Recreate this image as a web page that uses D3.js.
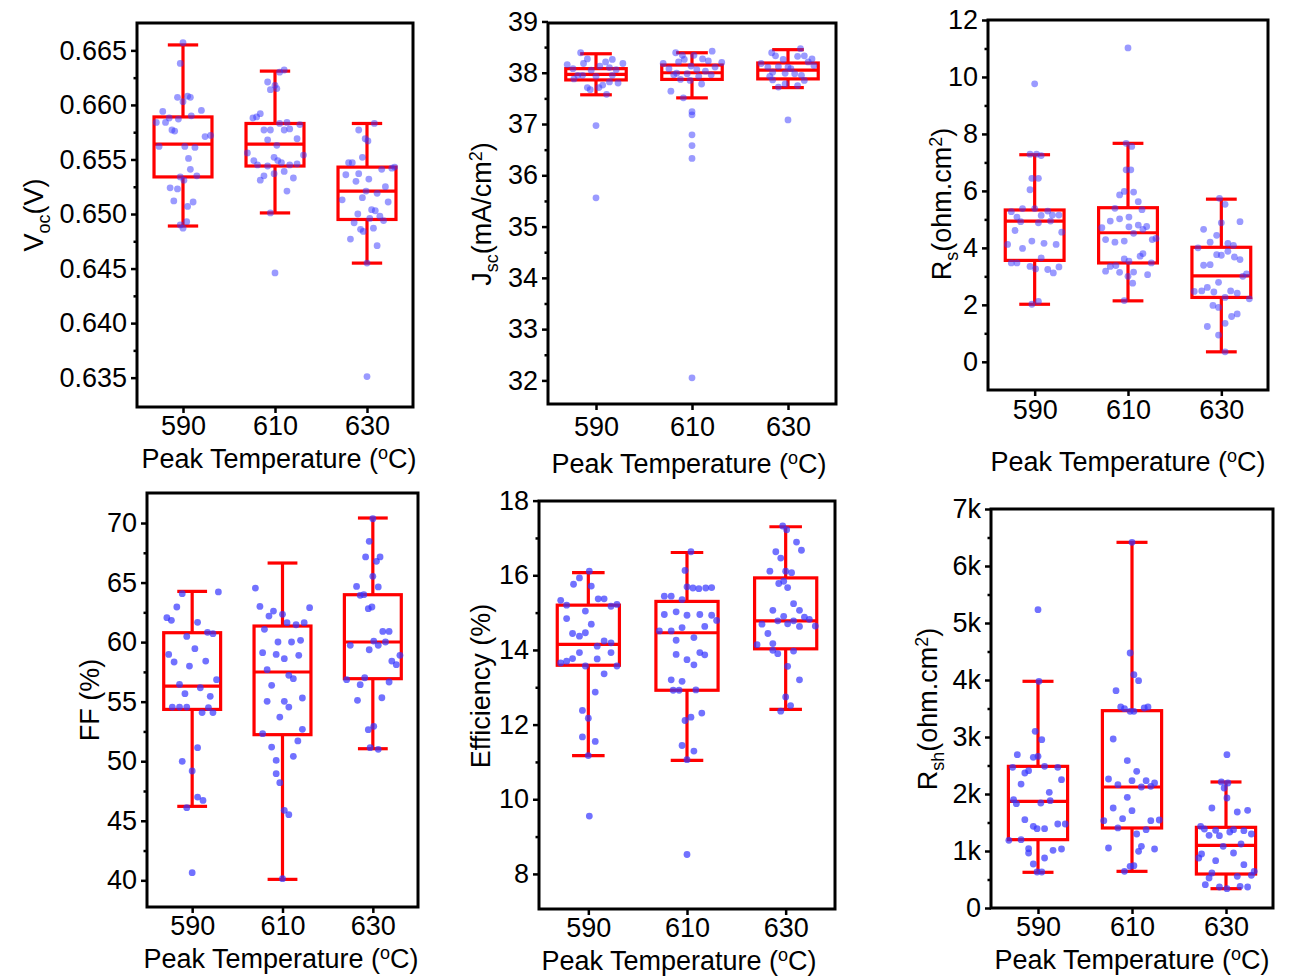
<!DOCTYPE html>
<html>
<head>
<meta charset="utf-8">
<script src="https://cdn.jsdelivr.net/npm/d3@7"></script>
<style>
  body { margin: 0; background: #fff; }
  text { font-family: "Liberation Sans", Arial, sans-serif; fill: #000; }
</style>
</head>
<body>
<svg id="fig" width="1294" height="976"></svg>
<script>
// categories
const temps = ["590", "610", "630"];

// box stats per temperature: [lower whisker, Q1, median, Q3, upper whisker]
const vocStats = [[0.6489, 0.6534, 0.6564, 0.6589, 0.6655], [0.6501, 0.6544, 0.6564, 0.6583, 0.6631], [0.6455, 0.6495, 0.6521, 0.6543, 0.6583]];
const jscStats = [[37.57, 37.86, 37.97, 38.08, 38.37], [37.51, 37.87, 38.0, 38.15, 38.39], [37.71, 37.88, 38.05, 38.19, 38.45]];
const rsStats = [[2.02, 3.56, 4.94, 5.33, 7.27], [2.14, 3.47, 4.53, 5.41, 7.67], [0.35, 2.26, 3.02, 4.02, 5.71]];
const ffStats = [[46.21, 54.35, 56.31, 60.79, 64.26], [40.08, 52.23, 57.49, 61.35, 66.64], [51.05, 56.93, 60.01, 63.98, 70.42]];
const effStats = [[11.17, 13.59, 14.15, 15.20, 16.07], [11.04, 12.92, 14.46, 15.30, 16.61], [12.41, 14.03, 14.78, 15.93, 17.30]];
const rshStats = [[626, 1199, 1871, 2485, 3977], [643, 1404, 2123, 3462, 6415], [339, 596, 1099, 1415, 2211]];

// measured cells: [jitter (fraction of category step), value]
const vocPts = [
  [[0,0.6657],[-0.03,0.6638],[-0.06,0.6607],[0,0.6603],[0.05,0.6608],[0.08,0.6607],[-0.22,0.6594],[0.2,0.6595],[-0.15,0.6588],[-0.05,0.6587],[0.09,0.659],[-0.29,0.6584],[-0.19,0.6584],[-0.12,0.6577],[-0.09,0.6576],[0.24,0.6571],[0.3,0.6572],[-0.26,0.6562],[0.02,0.6562],[0.13,0.6561],[0.06,0.6551],[0.08,0.6541],[0.15,0.6535],[-0.03,0.6534],[0.01,0.6531],[-0.14,0.6524],[-0.06,0.6523],[-0.1,0.6512],[0.11,0.6511],[0.05,0.6507],[0.04,0.6493],[-0.03,0.649],[0,0.6487]],
  [[0.1,0.6632],[0.05,0.663],[-0.08,0.6621],[0,0.6618],[-0.05,0.6614],[0.02,0.6615],[-0.16,0.6592],[-0.2,0.6589],[-0.24,0.6588],[0.13,0.6584],[0.05,0.6583],[0.27,0.6582],[-0.12,0.6577],[-0.05,0.6577],[0.1,0.6577],[0.16,0.6578],[0.24,0.6569],[-0.08,0.6568],[0.02,0.6563],[-0.3,0.6556],[0.31,0.6554],[-0.23,0.6549],[-0.01,0.6552],[0.03,0.6549],[0.07,0.6547],[-0.19,0.6545],[-0.08,0.6544],[0.16,0.6545],[0.24,0.6546],[0.1,0.6539],[-0.01,0.6537],[-0.12,0.6535],[-0.16,0.6531],[0.2,0.6533],[0.13,0.6521],[-0.05,0.6501],[0,0.6446]],
  [[0.08,0.6583],[-0.09,0.6577],[-0.02,0.6569],[0.01,0.6567],[-0.05,0.6552],[-0.2,0.6547],[-0.16,0.6547],[-0.23,0.6536],[-0.09,0.6537],[-0.12,0.653],[0.02,0.6532],[0.16,0.6541],[0.3,0.6543],[0.27,0.6542],[-0.01,0.6521],[0.2,0.6525],[0.11,0.6519],[-0.27,0.6513],[-0.05,0.6515],[0.23,0.6511],[0.05,0.6504],[0.09,0.6503],[-0.1,0.65],[0.03,0.6496],[0.14,0.6498],[0.18,0.6494],[-0.14,0.6492],[-0.07,0.6486],[-0.04,0.6484],[0.07,0.6487],[-0.18,0.6477],[0.11,0.6471],[0,0.6455],[0,0.6351]]
];
const jscPts = [
  [[-0.16,38.39],[-0.09,38.27],[-0.13,38.18],[-0.3,38.16],[0.17,38.26],[0.1,38.21],[0.28,38.18],[0.04,38.13],[-0.24,38.08],[0.14,38.1],[-0.05,38.05],[0.21,38.06],[-0.19,37.95],[-0.14,37.95],[-0.23,37.88],[0,37.93],[0.17,37.95],[0.14,37.82],[0.23,37.8],[0.07,37.76],[-0.09,37.71],[-0.06,37.67],[0.03,37.71],[0.11,37.58],[0,36.97],[0,35.56]],
  [[-0.17,38.39],[0.21,38.42],[-0.1,38.34],[0.02,38.34],[-0.08,38.26],[0.11,38.27],[0.17,38.23],[-0.14,38.21],[-0.3,38.18],[0.31,38.2],[-0.01,38.13],[0.24,38.11],[-0.24,38.08],[0.05,38.06],[0.14,38.03],[-0.16,37.99],[-0.19,37.96],[-0.05,37.98],[0.2,37.96],[0.07,37.93],[-0.12,37.87],[-0.02,37.85],[0.1,37.78],[-0.22,37.64],[-0.09,37.51],[0,37.24],[0,37.18],[0,36.79],[0,36.58],[0,36.33],[0,32.05]],
  [[0.13,38.47],[-0.17,38.39],[-0.13,38.33],[0.1,38.32],[0.17,38.33],[-0.05,38.26],[0.25,38.27],[0.21,38.21],[-0.28,38.18],[-0.21,38.11],[-0.1,38.12],[0,38.11],[0.03,38.08],[0.27,38.14],[-0.16,38.01],[-0.03,37.99],[0.07,37.98],[-0.19,37.93],[0.14,37.95],[-0.16,37.86],[0.17,37.85],[-0.03,37.78],[-0.1,37.72],[0.1,37.75],[0,37.08]]
];
const rsPts = [
  [[0,9.76],[-0.05,7.29],[0.02,7.29],[0.07,7.24],[-0.03,6.44],[0.04,6.44],[-0.05,6.04],[-0.25,5.27],[-0.13,5.38],[0,5.38],[0.14,5.29],[-0.19,5.08],[0.07,5.14],[0.19,5.15],[0.26,5.15],[-0.15,4.92],[0.04,4.88],[0.17,4.94],[-0.21,4.61],[0.29,4.55],[-0.29,4.12],[-0.03,4.24],[0.1,4.16],[0.23,4.12],[-0.13,3.98],[0.07,3.65],[-0.25,3.47],[-0.19,3.47],[-0.05,3.35],[0.01,3.26],[0.26,3.33],[0.14,3.24],[0.2,3.12],[-0.03,2.02],[0.04,2.12]],
  [[0,11.02],[-0.02,7.67],[0.04,7.56],[-0.02,6.74],[0.03,6.74],[-0.09,5.86],[-0.04,5.98],[0.06,5.96],[0.11,5.62],[-0.14,5.39],[0.15,5.34],[-0.19,4.94],[-0.09,5.02],[0.01,5.08],[-0.28,4.71],[0.01,4.74],[0.11,4.8],[0.2,4.75],[0.16,4.65],[0.06,4.51],[-0.24,4.29],[-0.14,4.2],[-0.04,4.24],[0.26,4.29],[0.3,4.33],[0.16,3.8],[0.13,3.71],[-0.04,3.61],[0.01,3.53],[0.25,3.47],[-0.19,3.35],[-0.13,3.38],[-0.24,3.18],[-0.09,3.14],[0.06,3.15],[0,3.0],[0.21,3.06],[0.05,2.76],[-0.04,2.15]],
  [[-0.02,5.74],[0.04,5.53],[0,4.88],[0.2,4.92],[-0.19,4.65],[-0.05,4.44],[-0.12,4.2],[0.07,4.16],[0.13,4.09],[-0.25,4.0],[0.07,3.88],[-0.05,3.76],[0,3.74],[0.14,3.68],[0.2,3.59],[-0.19,3.39],[-0.12,3.41],[0.27,3.09],[0.23,3.0],[-0.03,2.79],[-0.15,2.61],[-0.21,2.49],[-0.29,2.47],[-0.08,2.45],[0.1,2.49],[0.17,2.41],[0.04,2.26],[0.3,2.21],[-0.09,1.98],[-0.03,1.91],[0.17,1.68],[0.11,1.59],[0.04,1.35],[-0.15,1.24],[-0.03,0.94],[0.04,0.35]]
];
const ffPts = [
  [[-0.11,64.07],[0.29,64.21],[-0.17,62.95],[-0.28,62.05],[-0.23,61.83],[0.06,61.66],[-0.06,60.48],[0.17,60.82],[0.23,60.71],[0.03,59.45],[-0.26,58.97],[-0.2,58.33],[-0.03,57.99],[0.15,58.41],[0.27,56.85],[-0.14,56.45],[0.09,56.17],[-0.08,55.67],[0.2,55.45],[-0.22,54.55],[-0.14,54.55],[-0.06,54.55],[0.18,54.5],[0.11,54.08],[0.23,54.08],[0.06,51.14],[-0.11,49.99],[0,49.18],[0.06,46.99],[0.12,46.71],[-0.06,46.1],[0,40.64]],
  [[-0.3,64.54],[-0.25,63.0],[-0.1,62.61],[-0.15,62.19],[0.3,62.89],[0,62.33],[0.05,61.63],[0.15,61.46],[0.24,61.63],[-0.2,61.07],[0.2,60.15],[-0.05,60.01],[0.1,60.01],[-0.22,59.11],[-0.07,58.97],[0.02,58.61],[0.18,58.89],[-0.17,57.69],[0.07,57.21],[0.12,56.93],[-0.12,56.37],[-0.17,55.03],[0.02,55.03],[0.07,54.55],[0.22,55.31],[-0.03,53.71],[0.22,52.68],[-0.22,52.31],[0.17,51.7],[-0.12,51.19],[0.12,50.41],[-0.07,50.07],[-0.07,48.95],[-0.03,48.2],[0.02,45.88],[0.07,45.51],[0,40.14]],
  [[0,70.36],[-0.04,68.46],[-0.08,67.15],[0.08,67.15],[0.04,66.78],[0,65.52],[-0.18,64.68],[0.06,64.63],[-0.14,63.93],[-0.1,63.98],[-0.05,62.81],[-0.01,62.95],[0.11,60.9],[0.18,60.9],[0.14,60.01],[0.01,60.09],[-0.25,59.73],[0.06,59.73],[-0.04,59.36],[0.3,58.89],[0.21,58.41],[0.26,58.11],[-0.29,56.85],[-0.09,57.01],[-0.14,56.43],[0.18,56.65],[-0.17,55.11],[0.1,55.33],[0.01,52.93],[-0.05,52.65],[-0.03,51.14],[0.06,51.0]]
];
const effPts = [
  [[0.01,16.11],[-0.09,15.93],[-0.15,15.76],[0.03,15.71],[0.1,15.37],[0.16,15.37],[-0.28,15.33],[-0.22,15.2],[0.23,15.17],[0.29,15.22],[-0.03,15.04],[-0.22,14.84],[0.03,14.69],[-0.16,14.44],[-0.09,14.37],[-0.03,14.46],[0.16,14.24],[0.23,14.19],[0.09,14.1],[-0.09,13.93],[0.23,13.93],[-0.16,13.77],[0.09,13.76],[-0.22,13.7],[-0.28,13.65],[-0.03,13.57],[0.29,13.57],[0.16,13.36],[0.07,12.87],[-0.06,12.38],[0,12.17],[-0.06,11.67],[0.07,11.55],[0,11.17],[0.01,9.55]],
  [[0.04,16.63],[-0.02,16.13],[0,15.69],[0.06,15.66],[0.12,15.64],[0.19,15.66],[0.25,15.67],[-0.23,15.44],[-0.16,15.44],[-0.05,15.35],[-0.23,14.95],[-0.11,15.02],[0,14.93],[0.13,14.95],[0.25,14.93],[0.3,14.79],[0.18,14.63],[-0.28,14.51],[-0.16,14.51],[-0.05,14.6],[0.07,14.33],[-0.11,14.26],[-0.11,13.88],[0.13,13.93],[0.18,13.87],[0,13.74],[0.07,13.6],[-0.16,13.2],[-0.05,13.16],[-0.14,12.92],[-0.08,12.92],[0.09,12.93],[0.15,12.31],[0.04,12.2],[-0.02,12.11],[-0.05,11.44],[0.07,11.29],[0,11.06],[0,8.52]],
  [[-0.03,17.32],[0.01,17.22],[0.11,16.89],[0.16,16.67],[-0.1,16.63],[-0.05,16.46],[-0.16,16.11],[0,16.11],[0.06,16.07],[-0.07,15.78],[-0.02,15.84],[0.02,15.67],[0.08,15.24],[-0.13,15.06],[0.14,15.06],[-0.02,14.9],[0.19,14.88],[0.24,14.82],[-0.08,14.78],[0.02,14.7],[0.08,14.78],[-0.24,14.69],[0.14,14.63],[0.3,14.64],[-0.18,14.44],[-0.13,14.17],[-0.29,14.14],[-0.13,13.99],[-0.08,13.9],[0.08,13.97],[0.02,13.56],[0.14,13.2],[0,12.74],[0.05,12.51],[-0.05,12.36]]
];
const rshPts = [
  [[0,5234],[0.01,3977],[-0.03,3099],[0.04,2953],[-0.22,2690],[-0.05,2643],[0,2661],[-0.27,2468],[-0.1,2409],[-0.14,2368],[0.07,2485],[0.21,2468],[0.25,2251],[-0.18,2175],[0.12,2029],[-0.26,1901],[-0.23,1830],[0.03,1842],[0.13,1883],[-0.14,1550],[-0.05,1433],[-0.01,1392],[0.07,1392],[0.21,1474],[0.29,1474],[-0.31,1187],[-0.18,1199],[-0.1,1041],[-0.1,965],[0.16,1012],[0.25,1035],[0.07,877],[-0.05,772],[-0.01,632],[0.04,632]],
  [[0,6415],[-0.02,4474],[0.02,4094],[0.07,3988],[-0.17,3813],[-0.12,3526],[-0.08,3497],[-0.02,3450],[0.02,3450],[0.13,3509],[0.17,3526],[-0.2,2965],[-0.05,2585],[0.05,2398],[-0.25,2263],[0,2234],[0.15,2234],[0.24,2193],[-0.15,2164],[0.1,2123],[0.2,2135],[-0.05,1941],[-0.2,1754],[0,1708],[-0.1,1567],[-0.3,1532],[0.2,1532],[0.29,1544],[-0.15,1404],[0.15,1374],[0.05,1298],[0.1,1082],[-0.25,1053],[0.24,1035],[0.07,994],[0.02,743],[-0.02,731],[-0.08,643]],
  [[0.01,2690],[-0.05,2211],[0.02,2193],[-0.02,2105],[0.01,1930],[-0.15,1754],[0.12,1684],[0.23,1713],[-0.27,1433],[-0.23,1386],[-0.18,1275],[-0.11,1363],[0.04,1333],[-0.07,1269],[0.08,1374],[0.19,1357],[0.27,1298],[-0.03,1082],[0.16,1123],[0.08,965],[-0.26,947],[-0.29,877],[-0.11,830],[0.19,760],[-0.15,614],[0.3,643],[0.27,573],[0.12,556],[-0.18,526],[-0.22,409],[-0.07,368],[0.01,339],[0.15,380],[0.23,368]]
];

// tick labels
const vocTicks = [0.635, 0.640, 0.645, 0.650, 0.655, 0.660, 0.665];
const jscTicks = [32, 33, 34, 35, 36, 37, 38, 39];
const rsTicks = [0, 2, 4, 6, 8, 10, 12];
const ffTicks = [40, 45, 50, 55, 60, 65, 70];
const effTicks = [8, 10, 12, 14, 16, 18];
const rshTicks = [0, 1000, 2000, 3000, 4000, 5000, 6000, 7000];

const svg = d3.select('#fig');
const FS = 27, SFS = 18;

const kFmt = d => d === 0 ? "0" : (d / 1000) + "k";

const panels = [
  { frame: [137, 23, 413, 407], domain: [0.63231, 0.66751], major: vocTicks, minorStep: 0.005, fmt: d3.format(".3f"),
    stats: vocStats, pts: vocPts, xpad: 3, op: 0.5,
    ytitle: { x: 43, y: 215, parts: [["V"], ["oc", "sub"], ["(V)"]] }, xtitle: [279, 468] },
  { frame: [548, 23, 836, 404], domain: [31.54, 38.97], major: jscTicks, minorStep: 1, fmt: d3.format("d"),
    stats: jscStats, pts: jscPts, xpad: 7, op: 0.5,
    ytitle: { x: 491, y: 214, parts: [["J"], ["sc", "sub"], ["(mA/cm"], ["2", "sup"], [")"]] }, xtitle: [689, 473] },
  { frame: [988, 20, 1268, 390], domain: [-0.99, 12], major: rsTicks, minorStep: 2, fmt: d3.format("d"),
    stats: rsStats, pts: rsPts, xpad: 4, op: 0.5,
    ytitle: { x: 951, y: 204, parts: [["R"], ["s", "sub"], ["(ohm.cm"], ["2", "sup"], [")"]] }, xtitle: [1128, 471] },
  { frame: [147, 493, 418, 907], domain: [37.76, 72.52], major: ffTicks, minorStep: 5, fmt: d3.format("d"),
    stats: ffStats, pts: ffPts, xpad: 3, op: 0.7,
    ytitle: { x: 99, y: 700, parts: [["FF (%)"]] }, xtitle: [281, 968] },
  { frame: [539, 501, 835, 909], domain: [7.06, 17.99], major: effTicks, minorStep: 2, fmt: d3.format("d"),
    stats: effStats, pts: effPts, xpad: 3, op: 0.7,
    ytitle: { x: 490, y: 686, parts: [["Efficiency (%)"]] }, xtitle: [679, 969.5] },
  { frame: [991, 509, 1273, 908], domain: [0, 7000], major: rshTicks, minorStep: 1000, fmt: kFmt,
    stats: rshStats, pts: rshPts, xpad: 3, op: 0.7,
    ytitle: { x: 937, y: 709, parts: [["R"], ["sh", "sub"], ["(ohm.cm"], ["2", "sup"], [")"]] }, xtitle: [1132, 969] }
];

function styleAxis(sel) {
  sel.select('.domain').remove();
  sel.selectAll('.tick line').attr('stroke', '#000').attr('stroke-width', 2.5);
  sel.selectAll('.tick text').attr('font-size', FS).attr('fill', '#000')
    .attr('font-family', '"Liberation Sans", Arial, sans-serif');
}

function addParts(text, parts) {
  let shift = 0;
  parts.forEach(([t, kind]) => {
    const target = kind === 'sub' ? 7 : kind === 'sup' ? -9 : 0;
    text.append('tspan')
      .attr('dy', target - shift)
      .attr('font-size', kind ? SFS : FS)
      .text(t);
    shift = target;
  });
}

function draw(p) {
  const [x0, y0, x1, y1] = p.frame;
  const x = d3.scalePoint().domain(temps).range([x0, x1]).padding(0.5);
  const y = d3.scaleLinear().domain(p.domain).range([y1, y0]);
  const step = x.step();
  const g = svg.append('g');

  // minor ticks halfway between the labelled ones
  const minor = p.major.slice(0, -1).map(d => d + p.minorStep / 2);
  g.append('g').attr('transform', `translate(${x0},0)`)
    .call(d3.axisLeft(y).tickValues(minor).tickSize(3.5).tickFormat(''))
    .call(styleAxis);
  g.append('g').attr('transform', `translate(${x0},0)`)
    .call(d3.axisLeft(y).tickValues(p.major).tickSize(6).tickPadding(4).tickFormat(p.fmt))
    .call(styleAxis);
  g.append('g').attr('transform', `translate(0,${y1})`)
    .call(d3.axisBottom(x).tickSize(6).tickPadding(p.xpad))
    .call(styleAxis);

  // boxes
  const bw = step * 0.63, cw = step * 0.33;
  const box = g.selectAll('g.box').data(p.stats).join('g').attr('class', 'box')
    .attr('transform', (d, i) => `translate(${x(temps[i])},0)`)
    .attr('stroke', '#ff0000').attr('stroke-width', 3.2).attr('fill', 'none');
  box.append('line').attr('y1', d => y(d[0])).attr('y2', d => y(d[1]));
  box.append('line').attr('y1', d => y(d[3])).attr('y2', d => y(d[4]));
  box.append('line').attr('x1', -cw / 2).attr('x2', cw / 2).attr('y1', d => y(d[0])).attr('y2', d => y(d[0]));
  box.append('line').attr('x1', -cw / 2).attr('x2', cw / 2).attr('y1', d => y(d[4])).attr('y2', d => y(d[4]));
  box.append('rect').attr('x', -bw / 2).attr('width', bw)
    .attr('y', d => y(d[3])).attr('height', d => y(d[1]) - y(d[3]));
  box.append('line').attr('x1', -bw / 2).attr('x2', bw / 2).attr('y1', d => y(d[2])).attr('y2', d => y(d[2]));

  // points
  p.pts.forEach((grp, i) => {
    g.append('g').selectAll('circle').data(grp).join('circle')
      .attr('cx', d => x(temps[i]) + d[0] * step)
      .attr('cy', d => y(d[1]))
      .attr('r', 3.4)
      .attr('fill', '#3535ff')
      .attr('fill-opacity', p.op);
  });

  // frame
  g.append('rect').attr('x', x0).attr('y', y0).attr('width', x1 - x0).attr('height', y1 - y0)
    .attr('fill', 'none').attr('stroke', '#000').attr('stroke-width', 3);

  // titles
  const yt = g.append('text').attr('text-anchor', 'middle').attr('font-size', FS)
    .attr('transform', `translate(${p.ytitle.x},${p.ytitle.y}) rotate(-90)`);
  addParts(yt, p.ytitle.parts);

  const xt = g.append('text').attr('text-anchor', 'middle').attr('font-size', FS)
    .attr('x', p.xtitle[0]).attr('y', p.xtitle[1]);
  addParts(xt, [["Peak Temperature ("], ["o", "sup"], ["C)"]]);
}

panels.forEach(draw);
</script>
</body>
</html>
